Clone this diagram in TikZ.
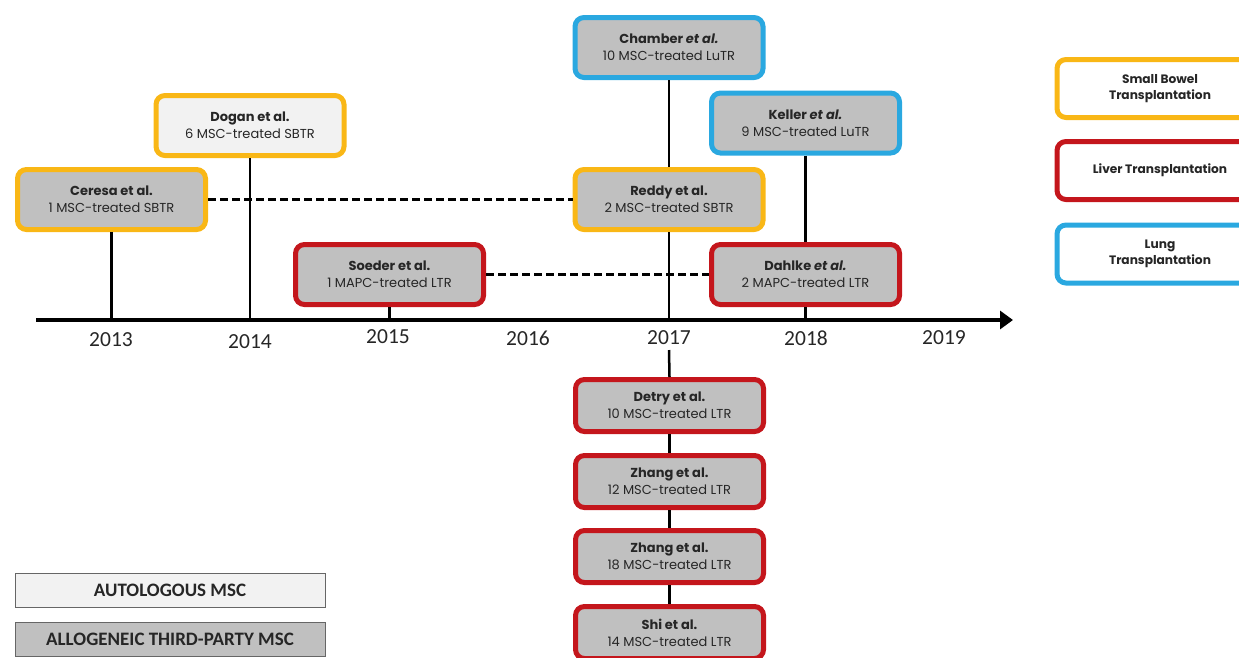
\documentclass[tikz,border=0pt]{standalone}
\usepackage{fontspec}
\setmainfont{Poppins}
\newfontfamily\carl{Carlito}
\usetikzlibrary{arrows.meta}
\definecolor{sbyel}{HTML}{F9B716}
\definecolor{lvred}{HTML}{C4161C}
\definecolor{lublue}{HTML}{2AA8E0}
\definecolor{boxgray}{HTML}{C0C0C0}
\definecolor{boxlight}{HTML}{F2F2F2}
\definecolor{txt}{HTML}{262626}
\tikzset{
  ev/.style={draw=#1, line width=5pt, rounded corners=9pt, fill=boxgray,
    minimum width=188pt, minimum height=60pt, align=center, inner sep=0pt,
    text=txt, font=\fontsize{13}{17}\selectfont},
  evs/.style={ev=#1, minimum height=52pt},
  leg/.style={draw=#1, line width=5pt, rounded corners=9pt, fill=white,
    minimum width=206pt, minimum height=58pt, align=center, inner sep=0pt,
    text=txt, font=\bfseries\fontsize{12.2}{16}\selectfont},
  cls/.style={draw=gray!80!black, line width=1pt, minimum width=310pt, minimum height=34pt,
    inner sep=0pt, text=txt, font=\carl\bfseries\fontsize{19}{22}\selectfont},
  yr/.style={text=txt, font=\carl\fontsize{21.5}{24}\selectfont, inner sep=0pt},
  vl/.style={line width=2.5pt, black},
  dl/.style={line width=2.5pt, black, dash pattern=on 8pt off 4pt},
}
\begin{document}
\begin{tikzpicture}[x=1pt,y=-1pt]
\useasboundingbox (0,0) rectangle (1239,657);
\begin{scope}
\clip (0,0) rectangle (1239,657);
% axis
\coordinate (axs) at (36,320);
\coordinate (axe) at (1013,320);
\draw[line width=4pt, -{Triangle[length=13pt,width=18pt]}] (axs) -- (axe);
% years
\node[yr] (y13) at (111,340) {2013};
\node[yr] (y14) at (250,342) {2014};
\node[yr] (y15) at (388,337) {2015};
\node[yr] (y16) at (528,338) {2016};
\node[yr] (y17) at (669,338) {2017};
\node[yr] (y18) at (806,338) {2018};
\node[yr] (y19) at (944,338) {2019};
\coordinate (b17) at (669,350);
% event boxes
\node[ev=sbyel] (ceresa) at (111.5,199.5) {\textbf{Ceresa et al.}\\1 MSC-treated SBTR};
\node[ev=sbyel, fill=boxlight] (dogan) at (250,125.5) {\textbf{Dogan et al.}\\6 MSC-treated SBTR};
\node[ev=lvred] (soeder) at (389.5,274.5) {\textbf{Soeder et al.}\\1 MAPC-treated LTR};
\node[ev=lublue] (chamber) at (669,47.5) {\textbf{Chamber \textit{et al.}}\\10 MSC-treated LuTR};
\node[ev=lublue] (keller) at (805.5,123) {\textbf{Keller \textit{et al.}}\\9 MSC-treated LuTR};
\node[ev=sbyel] (reddy) at (669,199.5) {\textbf{Reddy et al.}\\2 MSC-treated SBTR};
\node[ev=lvred] (dahlke) at (805.5,274.5) {\textbf{Dahlke \textit{et al.}}\\2 MAPC-treated LTR};
\node[evs=lvred] (detry) at (669.5,405.5) {\textbf{Detry et al.}\\10 MSC-treated LTR};
\node[evs=lvred] (zhanga) at (669.5,481.5) {\textbf{Zhang et al.}\\12 MSC-treated LTR};
\node[evs=lvred] (zhangb) at (669.5,556.5) {\textbf{Zhang et al.}\\18 MSC-treated LTR};
\node[evs=lvred] (shi) at (669.5,632.5) {\textbf{Shi et al.}\\14 MSC-treated LTR};
% connectors
\draw[vl] (ceresa.south) -- (ceresa.south |- axs);
\draw[vl] (dogan.south) -- (dogan.south |- axs);
\draw[vl] (soeder.south) -- (soeder.south |- axs);
\draw[vl] (chamber.south) -- (reddy.north);
\draw[vl] (reddy.south) -- (reddy.south |- axs);
\draw[vl] (keller.south) -- (dahlke.north);
\draw[vl] (dahlke.south) -- (dahlke.south |- axs);
\draw[vl] (b17) -- (detry.north);
\draw[vl] (detry.south) -- (zhanga.north);
\draw[vl] (zhanga.south) -- (zhangb.north);
\draw[vl] (zhangb.south) -- (shi.north);
\draw[dl] (ceresa.east) -- (reddy.west);
\draw[dl] (soeder.east) -- (dahlke.west);
% legend right
\node[leg=sbyel] (lsb) at (1160,88.5) {Small Bowel\\Transplantation};
\node[leg=lvred] (llv) at (1160,170.5) {Liver Transplantation};
\node[leg=lublue] (llu) at (1160,254) {Lung\\Transplantation};
% legend bottom
\node[cls, fill=boxlight] (auto) at (170,590) {AUTOLOGOUS MSC};
\node[cls, fill=boxgray] (allo) at (170,639) {ALLOGENEIC THIRD-PARTY MSC};
\end{scope}
\end{tikzpicture}
\end{document}
